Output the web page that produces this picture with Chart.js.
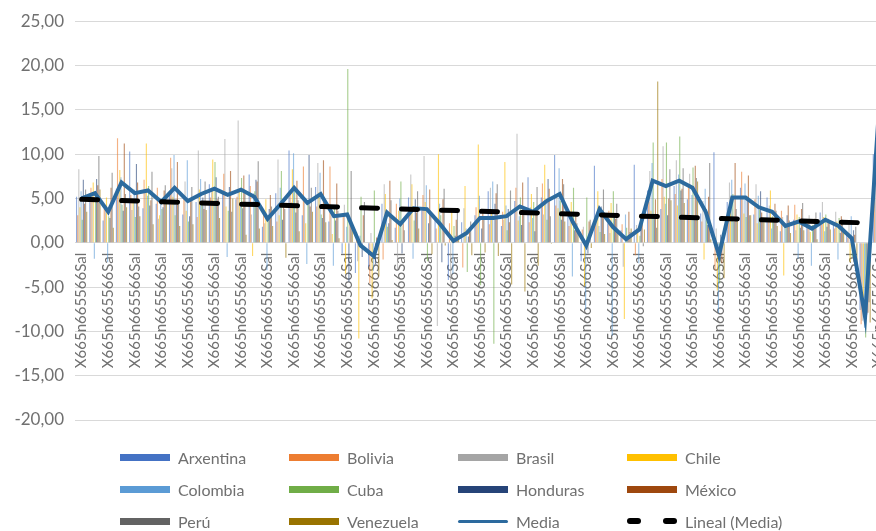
<!DOCTYPE html>
<html>
<head>
<meta charset="utf-8">
<script src="https://cdn.jsdelivr.net/npm/chart.js@4.4.1/dist/chart.umd.min.js"></script>
<style>
  html, body { margin: 0; padding: 0; background: #fff; overflow: hidden; }
  #wrap { position: relative; width: 876px; height: 531px; overflow: hidden; }
  #mediaChart { position: absolute; left: 0; top: 0; }
  #legend {
    position: absolute; left: 120px; top: 441px;
    display: grid; grid-template-columns: repeat(4, 169px); grid-auto-rows: 32px;
    font-family: Lato, "Noto Sans", sans-serif; font-size: 16px; color: #707070;
  }
  .item { display: flex; align-items: center; }
  .sw { width: 50px; margin-right: 8px; flex: none; }
</style>
</head>
<body>
<div id="wrap">
  <canvas id="mediaChart" width="885" height="531"></canvas>
  <div id="legend"></div>
</div>
<script>
// 61 categorias, todas coa mesma etiqueta
const categories = Array.from({ length: 61 }, () => 'X665n665566Sal');

const arxentina = [5.2, 4.8, 2.5, 6.1, 10.3, 3.9, 4.4, 5.8, 3.2, 4.6, 6.6, 5.5, 4.9, 7.7, 1.8, 5.6, 10.4, 3.1, 6.3, 2.4,
  -1.2, -3.4, -2.7, 4.4, 1.7, 5.1, 3.6, 2.8, -4.2, 2.3, 3.1, 5.8, 1.9, 4.7, 7.4, 5.1, 9.9, 3.5, -2.1, 8.7,
  2.2, 1.4, 8.8, 5.9, 3.8, 6.4, 4.9, 3.3, 10.2, 4.6, 6.2, 3.2, 5.1, 1.3, 2.6, 1.9, 3.4, 2.2, 1.1, -7.6, 10.0];
const bolivia = [3.1, 6.2, 3.8, 11.8, 5.4, 7.1, 6.2, 9.6, 5.3, 2.9, 5.1, 7.8, 5.2, 6.4, 3.4, 2.4, 5.9, 8.6, 4.1, 8.6,
  2.9, 1.2, -4.6, -1.9, 4.4, 3.2, 5.4, 1.6, 2.2, -2.8, 4.0, 2.1, 3.5, 6.2, 2.3, 6.7, 4.2, 1.9, 1.5, 2.6,
  3.6, 2.1, -1.4, 4.6, 7.2, 5.5, 6.6, 2.4, -3.1, 3.9, 8.0, 4.9, 2.8, 3.6, 4.3, 2.4, 2.1, 1.6, 0.6, -9.2, 8.0];
const brasil = [8.3, 5.5, 4.2, 5.9, 3.7, 6.0, 2.7, 8.4, 6.9, 10.4, 6.2, 11.7, 13.8, 3.2, 2.2, 9.4, 4.6, 5.0, 9.0, 3.1,
  4.3, -2.1, 1.1, 6.6, -3.0, 7.7, 9.8, -9.4, -5.1, 3.9, 2.2, 6.2, 2.6, 12.3, 4.0, 3.2, 5.1, 2.8, 1.8, 3.4,
  1.1, -2.7, 2.0, 8.1, 10.9, 9.3, 7.8, 4.7, 1.6, 6.8, 5.3, 6.6, 4.2, 2.9, 1.4, 3.1, 4.6, 3.5, 2.4, -8.8, 9.5];
const chile = [4.0, 6.8, 5.1, 8.2, 4.9, 11.2, 3.1, 5.2, 3.6, 6.0, 9.4, 4.1, 6.1, -1.5, 4.9, 3.1, 8.3, 2.2, 5.7, 1.0,
  -3.5, -10.8, -6.3, 5.5, 3.6, 6.6, 4.6, 10.0, 3.6, 6.4, 11.1, 3.3, 9.1, 2.5, 5.5, 8.8, 3.9, 4.6, -4.9, 5.8,
  4.5, -8.6, 1.6, 3.6, 5.2, 4.2, 3.1, -1.9, -5.4, 5.2, 3.3, 2.2, 5.9, -3.7, 3.2, 1.2, 2.9, 2.4, -2.2, -6.4, 19.5];
const colombia = [5.8, -1.8, -2.2, 7.4, 6.0, 5.3, 5.0, 9.9, 9.3, 7.2, 4.3, -1.6, 4.5, 5.6, -3.1, 6.2, 10.1, -2.4, 7.9, -2.6,
  1.8, 0.8, -3.2, 3.3, 5.0, -1.8, 6.5, 4.4, -3.5, 1.6, 5.3, 6.9, 4.2, 3.0, 2.8, 4.4, 8.4, -3.8, -7.6, 1.9,
  -10.5, 3.2, -2.3, 9.0, 4.4, 7.7, 5.4, 6.1, -7.9, 7.1, 6.7, 5.3, 1.6, 2.2, -1.8, -2.6, 1.3, -1.9, 3.0, -9.6, 14.0];
const cuba = [2.6, 5.0, 3.0, 4.3, 2.9, 6.4, 3.8, 3.1, 2.4, 4.4, 9.1, 3.6, 7.3, 5.8, 2.6, 8.1, 6.2, 4.8, 3.2, 4.2,
  19.6, 5.2, 5.9, 1.8, 6.9, 2.5, -2.1, 3.1, 1.9, -3.3, -4.8, -11.4, 1.4, 5.1, 4.6, 2.6, 4.7, 6.2, 5.1, 1.2,
  5.8, 1.7, 0.8, 11.3, 11.3, 12.0, 8.5, 3.8, -4.6, 5.5, 2.9, 3.7, 3.0, 1.8, 2.9, 2.0, 3.2, 2.8, -1.6, -10.7, 17.4];
const honduras = [7.1, 7.2, 2.8, 3.6, 8.9, 4.2, 4.0, 4.3, 3.0, 5.1, 7.4, 6.3, 3.9, 7.1, 3.8, 2.6, 3.4, 9.9, 2.8, 2.5,
  -4.4, -1.6, -2.4, 2.2, -1.2, 4.9, 2.2, -2.2, 0.8, 0.7, 1.6, 4.4, 3.8, 2.0, 1.3, 7.2, 2.6, 1.4, -1.2, 4.1,
  3.0, 0.6, 1.9, 2.7, 3.1, 5.9, 2.8, 2.0, 0.9, 2.4, 4.8, 5.8, 2.5, 3.1, 1.7, 1.5, 1.8, 1.1, 1.4, -8.1, 13.6];
const mexico = [4.4, 6.5, 6.2, 11.2, 6.8, 4.8, 5.9, 9.1, 4.9, 3.8, 4.9, 8.1, 7.6, 6.9, 5.4, 4.5, 7.0, 4.1, 9.3, 6.7,
  2.6, 3.1, 0.6, 7.0, 2.2, 3.4, 6.0, 4.9, 2.6, 1.2, 3.7, 5.6, 2.3, 6.8, 3.4, 6.1, 7.2, 3.1, 2.4, 3.3,
  2.7, 3.5, 2.5, 4.9, 5.0, 6.1, 8.7, 5.2, -2.3, 9.0, 7.6, 3.4, 4.4, 4.2, 3.8, 2.7, 2.7, 3.0, 0.9, -7.9, 16.2];
const peru = [6.0, 9.8, 7.9, 5.5, 4.1, 8.0, 6.5, 4.7, 6.3, 6.9, 5.2, 3.5, 5.8, 9.2, 4.1, 3.8, 4.8, 6.2, 4.4, 3.6,
  8.1, 4.6, 0.4, 4.8, 1.4, 5.8, 3.3, 6.1, 3.4, 2.4, 2.9, 6.6, 5.9, 3.9, 6.3, 3.0, 6.6, 2.2, 2.6, 6.0,
  4.4, 1.2, -0.4, 1.7, 8.3, 8.4, 7.3, 9.0, 0.6, 3.8, 3.1, 2.6, 3.6, 2.5, 4.5, 3.4, 2.5, 2.6, 1.8, -6.7, 15.3];
const venezuela = [3.5, 6.0, 1.7, 4.0, 3.0, 2.1, 4.4, 1.9, 2.1, 3.7, 2.8, 5.0, 0.9, 1.6, 1.9, -1.7, 1.3, 3.5, 2.3, 0.5,
  1.8, 0.0, -3.8, 0.3, 0.0, 1.6, -1.3, -0.3, 0.3, -1.4, -1.1, -1.5, -4.7, -5.5, -2.6, -0.1, 2.4, 1.1, -0.6, 1.0,
  1.2, 1.6, 1.5, 18.2, 4.8, 4.5, 6.9, 0.4, -4.0, 2.7, 3.1, 2.3, 1.9, 1.1, 1.4, 0.4, 1.5, 1.7, -2.4, -9.0, 16.5];

const media = [5.0, 5.6, 3.5, 6.8, 5.6, 5.9, 4.6, 6.2, 4.7, 5.5, 6.1, 5.4, 6.0, 5.2, 2.7, 4.4, 6.2, 4.5, 5.5, 3.0,
  3.2, -0.3, -1.5, 3.4, 2.1, 3.9, 3.8, 2.1, 0.2, 1.1, 2.8, 2.8, 3.0, 4.1, 3.5, 4.7, 5.5, 2.3, -0.3, 3.8,
  1.8, 0.4, 1.5, 7.0, 6.4, 7.0, 6.2, 3.5, -1.4, 5.1, 5.1, 4.0, 3.5, 1.9, 2.4, 1.6, 2.6, 1.9, 0.5, -8.4, 14.0];

// liña de tendencia (inicio e fin)
const trendStart = 4.9;
const trendEnd = 2.2;

const yTicks = [-20, -15, -10, -5, 0, 5, 10, 15, 20, 25];

const countries = [
  ['Arxentina', arxentina, '#4472C4'],
  ['Bolivia', bolivia, '#ED7D31'],
  ['Brasil', brasil, '#A5A5A5'],
  ['Chile', chile, '#FFC000'],
  ['Colombia', colombia, '#5B9BD5'],
  ['Cuba', cuba, '#70AD47'],
  ['Honduras', honduras, '#264478'],
  ['México', mexico, '#9E480E'],
  ['Perú', peru, '#636363'],
  ['Venezuela', venezuela, '#997300']
];

const lastIdx = categories.length - 1;
const lineal = categories.map((c, i) => i === 0 ? trendStart : (i === lastIdx ? trendEnd : null));

// as barras levan algo de transparencia para parecerse ao orixinal
const datasets = countries.map(([name, values, color]) => ({
  type: 'bar',
  label: name,
  data: values,
  backgroundColor: color + '99',
  legendColor: color,
  borderWidth: 0,
  order: 2
}));

datasets.push({
  type: 'line',
  label: 'Media',
  data: media,
  borderColor: '#2C6A9E',
  borderWidth: 4,
  pointRadius: 0,
  tension: 0,
  order: 1
});

datasets.push({
  type: 'line',
  label: 'Lineal (Media)',
  data: lineal,
  spanGaps: true,
  borderColor: '#000000',
  borderWidth: 5,
  borderDash: [16, 24],
  borderCapStyle: 'round',
  pointRadius: 0,
  order: 0
});

const textGray = '#707070';
const ctx = document.getElementById('mediaChart').getContext('2d');
new Chart(ctx, {
  data: { labels: categories, datasets: datasets },
  options: {
    responsive: false,
    animation: false,
    layout: { autoPadding: false, padding: { top: 20, bottom: 111, left: 0, right: 0 } },
    plugins: { legend: { display: false }, tooltip: { enabled: false } },
    datasets: { bar: { categoryPercentage: 0.85, barPercentage: 1.0 } },
    scales: {
      x: {
        position: { y: 0 },
        grid: { display: false, drawTicks: false },
        border: { color: '#d9d9d9' },
        // sen recheo extra polas etiquetas rotadas: o gráfico corta pola dereita
        afterFit: function (scale) {
          scale.paddingLeft = 0;
          scale.paddingRight = 0;
        },
        ticks: {
          autoSkip: false,
          minRotation: 90,
          maxRotation: 90,
          padding: 10,
          color: textGray,
          font: { family: 'Lato', size: 15 },
          callback: function (value, index) {
            return index % 2 === 0 ? this.getLabelForValue(value) : '';
          }
        }
      },
      y: {
        min: yTicks[0],
        max: yTicks[yTicks.length - 1],
        afterBuildTicks: function (scale) {
          scale.ticks = yTicks.map(v => ({ value: v }));
        },
        afterFit: function (scale) { scale.width = 75; },
        grid: { color: '#d9d9d9', drawTicks: false },
        border: { display: false },
        ticks: {
          padding: 11,
          color: textGray,
          font: { family: 'Lato', size: 17 },
          callback: function (value) {
            return value.toFixed(2).replace('.', ',');
          }
        }
      }
    }
  }
});

// lenda en HTML (grade de 4 columnas)
const legend = document.getElementById('legend');
datasets.forEach(ds => {
  const item = document.createElement('div');
  item.className = 'item';
  const sw = document.createElement('div');
  sw.className = 'sw';
  if (ds.type === 'bar') {
    sw.style.height = '7px';
    sw.style.background = ds.legendColor;
  } else if (ds.label === 'Media') {
    sw.style.height = '3px';
    sw.style.background = ds.borderColor;
    sw.style.borderRadius = '2px';
  } else {
    sw.style.height = '6px';
    sw.style.position = 'relative';
    sw.innerHTML = '<span style="position:absolute;left:0;top:0;width:14px;height:6px;border-radius:3px;background:#000"></span>' +
      '<span style="position:absolute;right:0;top:0;width:14px;height:6px;border-radius:3px;background:#000"></span>';
  }
  const txt = document.createElement('span');
  txt.textContent = ds.label;
  item.appendChild(sw);
  item.appendChild(txt);
  legend.appendChild(item);
});
</script>
</body>
</html>
